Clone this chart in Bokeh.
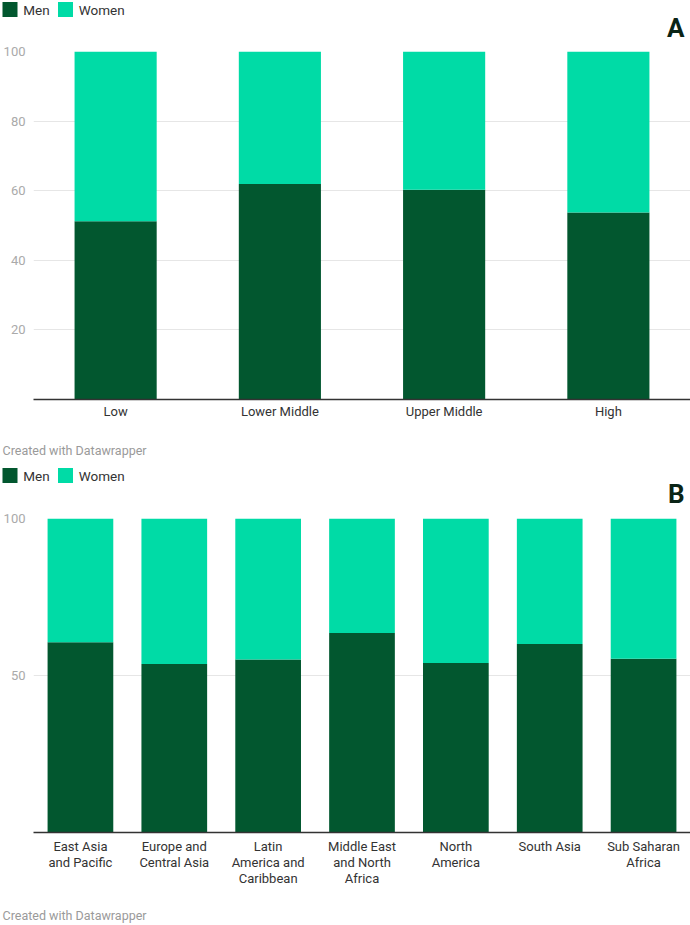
from bokeh.plotting import figure
from bokeh.layouts import column
from bokeh.models import Range1d, FactorRange, FixedTicker, ColumnDataSource
from bokeh.core.properties import value
from bokeh.embed import file_html
from bokeh.resources import INLINE

# ---------------- data ----------------
income_groups = ["Low", "Lower Middle", "Upper Middle", "High"]
men_income = [51.2, 61.9, 60.3, 53.7]
women_income = [48.8, 38.1, 39.7, 46.3]
ticks_income = [20, 40, 60, 80, 100]

regions = ["East Asia\nand Pacific", "Europe and\nCentral Asia", "Latin\nAmerica and\nCaribbean",
           "Middle East\nand North\nAfrica", "North\nAmerica", "South Asia", "Sub Saharan\nAfrica"]
men_region = [60.6, 53.7, 55.1, 63.5, 54.0, 60.0, 55.3]
women_region = [39.4, 46.3, 44.9, 36.5, 46.0, 40.0, 44.7]
ticks_region = [50, 100]

series = ["Men", "Women"]
colors = ["#02572f", "#00dba6"]
credit = "Created with Datawrapper"

FONT = "Roboto"
W = 690


def text_fig(h):
    f = figure(width=W, height=h, output_backend="svg", toolbar_location=None,
               x_range=Range1d(0, W), y_range=Range1d(h, 0), min_border=0,
               x_axis_location=None, y_axis_location=None, frame_align=False)
    f.grid.visible = False
    f.outline_line_color = None
    f.background_fill_color = "white"
    f.border_fill_color = "white"
    return f


def add_legend(f, cy):
    f.rect(x=[9.5, 65.0], y=[cy, cy], width=15, height=15, fill_color=colors, line_color=None)
    f.text(x=[22.7, 78.3], y=[cy, cy], text=series, text_font=value(FONT),
           text_font_size=value("13.5px"), text_color="#333333",
           text_baseline="middle", text_align="left")


def add_letter(f, letter, cy):
    f.text(x=[684], y=[cy], text=[letter], text_font=value(FONT), text_font_style="bold",
           text_font_size=value("26px"), text_color="#0a2416",
           text_baseline="middle", text_align="right")


def add_credit(f, cy):
    f.text(x=[2], y=[cy], text=[credit], text_font=value(FONT),
           text_font_size=value("12.5px"), text_color="#9a9a9a",
           text_baseline="middle", text_align="left")


def make_chart(cats, men, women, ticks, H, top, bottom, bar_w, standoff, line_h):
    src = ColumnDataSource(dict(cat=cats, Men=men, Women=women))
    p = figure(width=W, height=H, output_backend="svg", toolbar_location=None,
               x_range=FactorRange(*cats, range_padding=0), y_range=Range1d(0, 100),
               min_border_left=33, min_border_right=0, min_border_top=top,
               min_border_bottom=bottom, frame_align=False)
    p.vbar_stack(series, x="cat", width=bar_w, color=colors, line_color=None, source=src)
    p.outline_line_color = None
    p.background_fill_color = "white"
    p.border_fill_color = "white"
    p.xgrid.visible = False
    p.ygrid.ticker = FixedTicker(ticks=ticks)
    p.ygrid.grid_line_color = "#e6e6e6"
    p.ygrid.grid_line_width = 1

    ya = p.yaxis[0]
    ya.ticker = FixedTicker(ticks=ticks)
    ya.axis_line_color = None
    ya.major_tick_line_color = None
    ya.minor_tick_line_color = None
    ya.major_tick_out = 0
    ya.major_tick_in = 0
    ya.minor_tick_out = 0
    ya.minor_tick_in = 0
    ya.major_label_standoff = 8
    ya.major_label_text_font = FONT
    ya.major_label_text_font_size = "13px"
    ya.major_label_text_color = "#aaaaaa"

    xa = p.xaxis[0]
    xa.axis_line_color = "#333333"
    xa.axis_line_width = 1.5
    xa.major_tick_line_color = None
    xa.minor_tick_line_color = None
    xa.major_tick_out = 0
    xa.major_tick_in = 0
    xa.major_label_standoff = standoff
    xa.major_label_text_font = FONT
    xa.major_label_text_font_size = "13px"
    xa.major_label_text_color = "#333333"
    xa.major_label_text_line_height = line_h
    xa.major_label_orientation = "horizontal"
    return p


# header of chart A (0-44)
head_a = text_fig(44)
add_legend(head_a, 9)
add_letter(head_a, "A", 27.5)

# chart A (44-424), frame 51-399
chart_a = make_chart(income_groups, men_income, women_income, ticks_income,
                     380, 7, 25, 0.5, 4, 1.0)

# credit A + header of chart B (424-508)
mid = text_fig(84)
add_credit(mid, 26)
add_legend(mid, 51)
add_letter(mid, "B", 69)

# chart B (508-890), frame 518-832
chart_b = make_chart(regions, men_region, women_region, ticks_region,
                     382, 10, 58, 0.7, 6, 1.07)

# credit B (890-925)
foot = text_fig(35)
add_credit(foot, 25)

layout = column(head_a, chart_a, mid, chart_b, foot, spacing=0)
open("out.html", "w").write(file_html(layout, INLINE))
